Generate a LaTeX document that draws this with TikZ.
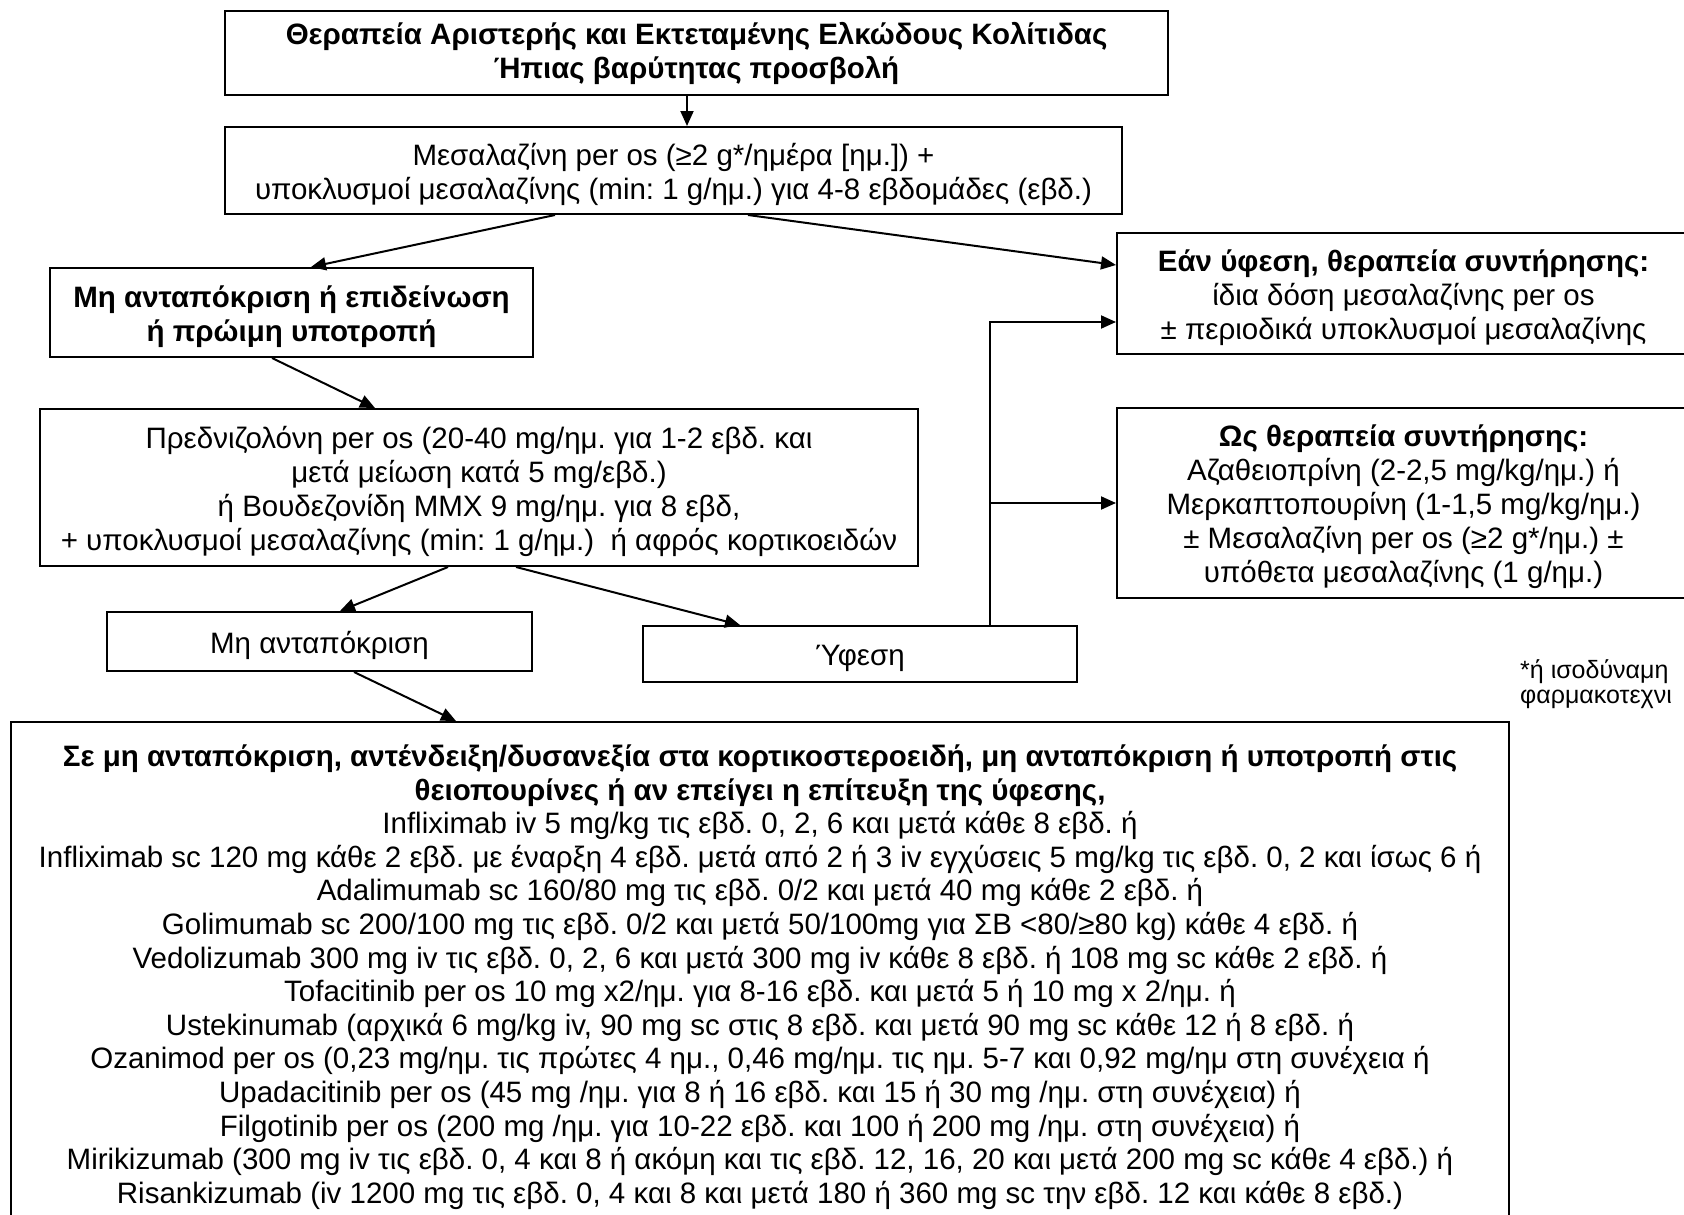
\documentclass[tikz,border=0pt]{standalone}
\usepackage{fontspec}
\setmainfont{Liberation Sans}
\usetikzlibrary{arrows.meta}
\newcommand\mainfs{\fontsize{29.5}{34}\selectfont\frenchspacing}
\newcommand\botfs{\fontsize{29.5}{33.6}\selectfont\frenchspacing}
\newcommand\notefs{\fontsize{25}{25}\selectfont\frenchspacing}
\newcommand\tpad{\rule{0pt}{30pt}}
\begin{document}
\begin{tikzpicture}[x=1pt,y=-1pt,
  box/.style={draw, line width=2pt, align=center, inner sep=0pt, font=\mainfs},
  arr/.style={line width=2pt, -{Triangle[length=15pt,width=13pt]}},
  plain/.style={line width=2pt}]
\useasboundingbox (0,0) rectangle (1684,1215);
\clip (0,0) rectangle (1684,1215);
\fill[white] (0,0) rectangle (1684,1215);

\node[box, minimum width=943pt, minimum height=84pt] (top) at (696.5,53)
  {\textbf{Θεραπεία Αριστερής και Εκτεταμένης Ελκώδους Κολίτιδας}\\\textbf{Ήπιας βαρύτητας προσβολή}};
\node[box, minimum width=897pt, minimum height=87pt] (b2) at (673.5,170.5)
  {\tpad Μεσαλαζίνη per os (≥2 g*/ημέρα [ημ.]) +\\υποκλυσμοί μεσαλαζίνης (min: 1 g/ημ.) για 4-8 εβδομάδες (εβδ.)};
\node[box, minimum width=483pt, minimum height=89pt] (b3) at (291.5,312.5)
  {\tpad\textbf{Μη ανταπόκριση ή επιδείνωση}\\\textbf{ή πρώιμη υποτροπή}};
\node[box, minimum width=878pt, minimum height=157pt] (b4) at (479,487.5)
  {\tpad Πρεδνιζολόνη per os (20-40 mg/ημ. για 1-2 εβδ. και\\μετά μείωση κατά 5 mg/εβδ.)\\ή Βουδεζονίδη MMX 9 mg/ημ. για 8 εβδ,\\+ υποκλυσμοί μεσαλαζίνης (min: 1 g/ημ.)\ \ ή αφρός κορτικοειδών};
\node[box, minimum width=425pt, minimum height=59pt] (b5) at (319.5,641.5) {\tpad Μη ανταπόκριση};
\node[box, minimum width=434pt, minimum height=56pt] (b6) at (860,654) {\tpad Ύφεση};
\node[box, minimum width=573pt, minimum height=121pt] (rb1) at (1403.5,293.5)
  {\tpad\textbf{Εάν ύφεση, θεραπεία συντήρησης:}\\ίδια δόση μεσαλαζίνης per os\\± περιοδικά υποκλυσμοί μεσαλαζίνης};
\node[box, minimum width=573pt, minimum height=190pt] (rb2) at (1403.5,503)
  {\tpad\textbf{Ως θεραπεία συντήρησης:}\\Αζαθειοπρίνη (2-2,5 mg/kg/ημ.) ή\\Μερκαπτοπουρίνη (1-1,5 mg/kg/ημ.)\\± Μεσαλαζίνη per os (≥2 g*/ημ.) ±\\υπόθετα μεσαλαζίνης (1 g/ημ.)};
\node[box, font=\botfs, minimum width=1498pt, minimum height=510pt] (bot) at (760,977)
  {\textbf{Σε μη ανταπόκριση, αντένδειξη/δυσανεξία στα κορτικοστεροειδή, μη ανταπόκριση ή υποτροπή στις}\\
   \textbf{θειοπουρίνες ή αν επείγει η επίτευξη της ύφεσης,}\\
   Infliximab iv 5 mg/kg τις εβδ. 0, 2, 6 και μετά κάθε 8 εβδ. ή\\
   Infliximab sc 120 mg κάθε 2 εβδ. με έναρξη 4 εβδ. μετά από 2 ή 3 iv εγχύσεις 5 mg/kg τις εβδ. 0, 2 και ίσως 6 ή\\
   Adalimumab sc 160/80 mg τις εβδ. 0/2 και μετά 40 mg κάθε 2 εβδ. ή\\
   Golimumab sc 200/100 mg τις εβδ. 0/2 και μετά 50/100mg για ΣΒ <80/≥80 kg) κάθε 4 εβδ. ή\\
   Vedolizumab 300 mg iv τις εβδ. 0, 2, 6 και μετά 300 mg iv κάθε 8 εβδ. ή 108 mg sc κάθε 2 εβδ. ή\\
   Tofacitinib per os 10 mg x2/ημ. για 8-16 εβδ. και μετά 5 ή 10 mg x 2/ημ. ή\\
   Ustekinumab (αρχικά 6 mg/kg iv, 90 mg sc στις 8 εβδ. και μετά 90 mg sc κάθε 12 ή 8 εβδ. ή\\
   Ozanimod per os (0,23 mg/ημ. τις πρώτες 4 ημ., 0,46 mg/ημ. τις ημ. 5-7 και 0,92 mg/ημ στη συνέχεια ή\\
   Upadacitinib per os (45 mg /ημ. για 8 ή 16 εβδ. και 15 ή 30 mg /ημ. στη συνέχεια) ή\\
   Filgotinib per os (200 mg /ημ. για 10-22 εβδ. και 100 ή 200 mg /ημ. στη συνέχεια) ή\\
   Mirikizumab (300 mg iv τις εβδ. 0, 4 και 8 ή ακόμη και τις εβδ. 12, 16, 20 και μετά 200 mg sc κάθε 4 εβδ.) ή\\
   Risankizumab (iv 1200 mg τις εβδ. 0, 4 και 8 και μετά 180 ή 360 mg sc την εβδ. 12 και κάθε 8 εβδ.)};
\node[font=\notefs, align=left, anchor=north west, inner sep=0pt] (fn) at (1520,659)
  {*ή ισοδύναμη\\φαρμακοτεχνι};

\coordinate (c1) at (990,322);
\coordinate (c2) at (990,503);
\draw[arr] (top.south -| 687,0) -- (b2.north -| 687,0);
\draw[arr] (b2.south -| 555,0) -- (b3.north -| 311,0);
\draw[arr] (b2.south -| 748,0) -- (rb1.west |- 0,265);
\draw[arr] (b3.south -| 272,0) -- (b4.north -| 375,0);
\draw[arr] (b4.south -| 448,0) -- (b5.north -| 340,0);
\draw[arr] (b4.south -| 516,0) -- (b6.north -| 740,0);
\draw[arr] (b5.south -| 354,0) -- (bot.north -| 456,0);
\draw[arr] (b6.north -| c1) -- (c1) -- (rb1.west |- c1);
\draw[arr] (c2) -- (rb2.west |- c2);
\end{tikzpicture}
\end{document}
